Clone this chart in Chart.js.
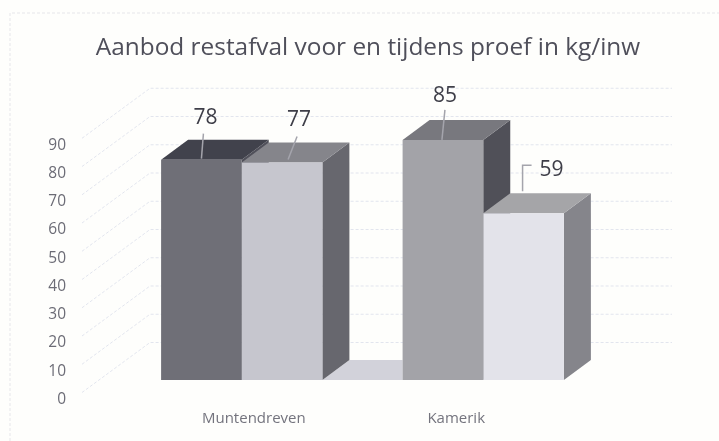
<!DOCTYPE html>
<html><head><meta charset="utf-8">
<style>html,body{margin:0;padding:0;background:#fefefc}canvas{display:block}</style>
<script src="https://cdn.jsdelivr.net/npm/chart.js@4"></script></head>
<body><canvas id="c" width="719" height="441"></canvas>
<script>
const categories = ['Muntendreven', 'Kamerik'];
const seriesVoor = [78, 85];
const seriesTijdens = [77, 59];
const yTicks = [0,10,20,30,40,50,60,70,80,90];
const titleText = 'Aanbod restafval voor en tijdens proef in kg/inw';

const frontVoor = ['#6f6f77', '#a3a3a8'], frontTijdens = ['#c6c6ce', '#e3e3ea'];
const topVoor = ['#41424c', '#78787e'], topTijdens = ['#85858b', '#a5a5a8'];
const sideVoor = ['#50505a', '#505058'], sideTijdens = ['#67676e', '#85858b'];
const DX = 27, DY = 20, LIFT = 19.5;
// offsets: [text dx, text dy, leader points relative to bar top centre]
const callouts = [
  [[ 4,-42],[ 2,-26],[0,-1]],
  [[ 17,-42],[ 15,-26],[6,-3]],
  [[ 2,-44],[ 2,-30],[-1,0]],
  [[ 28,-43],[ 8,-48],[-1,-48],[-1,-22]]
];

function poly(g, pts, fill){ g.beginPath(); pts.forEach((p,i)=> i?g.lineTo(p[0],p[1]):g.moveTo(p[0],p[1])); g.closePath(); g.fillStyle=fill; g.fill(); }

const scene = {
  id:'scene',
  beforeDatasetsDraw(chart){
    const g = chart.ctx, y = chart.scales.y, x0 = 82, x1 = 150, xr = 672;
    g.save();
    g.lineWidth = 1; g.strokeStyle = '#e6e6ea'; g.setLineDash([3,2]);
    g.beginPath(); g.moveTo(10,441); g.lineTo(10,13); g.lineTo(719,13); g.stroke();
    g.strokeStyle = '#e2e5ee';
    yTicks.forEach(v=>{
      const p = y.getPixelForValue(v);
      g.beginPath(); g.moveTo(x0, p-7); g.lineTo(x1, p-57); g.lineTo(xr, p-57); g.stroke();
    });
    g.setLineDash([]);
    const m0 = chart.getDatasetMeta(0).data, m1 = chart.getDatasetMeta(1).data;
    const b = m0[0].base - LIFT;
    const left = m1[0].x + m1[0].width/2, right = m0[1].x - m0[1].width/2;
    poly(g, [[left,b],[left+DX,b-DY],[right,b-DY],[right,b]], '#d2d2da');
    g.restore();
    g.save(); g.translate(0,-LIFT);
    for (let i=0;i<categories.length;i++){
      [[m0,sideVoor,topVoor],[m1,sideTijdens,topTijdens]].forEach(([m,sd,tp])=>{
        const e = m[i], l = e.x-e.width/2, r = e.x+e.width/2;
        poly(g, [[r,e.base],[r+DX,e.base-DY],[r+DX,e.y-DY],[r,e.y]], sd[i]);
        poly(g, [[l,e.y],[l+DX,e.y-DY],[r+DX,e.y-DY],[r,e.y]], tp[i]);
      });
    }
  },
  afterDatasetsDraw(chart){
    const g = chart.ctx;
    g.restore();
    g.save();
    const els = [chart.getDatasetMeta(0).data[0], chart.getDatasetMeta(1).data[0], chart.getDatasetMeta(0).data[1], chart.getDatasetMeta(1).data[1]];
    const vals = [seriesVoor[0], seriesTijdens[0], seriesVoor[1], seriesTijdens[1]];
    els.forEach((e,i)=>{
      const c = callouts[i], ox = e.x, oy = e.y - LIFT;
      g.strokeStyle = '#a4a4ac'; g.lineWidth = 1.5;
      g.beginPath();
      c.slice(1).forEach((p,k)=> k? g.lineTo(ox+p[0],oy+p[1]) : g.moveTo(ox+p[0],oy+p[1]));
      g.stroke();
      g.fillStyle = '#3e3e48'; g.font = '21px "Open Sans"'; g.textAlign='center'; g.textBaseline='middle';
      g.fillText(String(vals[i]), ox+c[0][0], oy+c[0][1]);
    });
    g.restore();
  }
};

new Chart(document.getElementById('c'), {
  type:'bar',
  data:{ labels:categories, datasets:[
    {label:'voor', data:seriesVoor, backgroundColor:frontVoor, borderWidth:0, categoryPercentage:.797, barPercentage:1, clip:false},
    {label:'tijdens', data:seriesTijdens, backgroundColor:frontTijdens, borderWidth:0, categoryPercentage:.797, barPercentage:1, clip:false}
  ]},
  plugins:[scene],
  options:{
    responsive:false, animation:false, devicePixelRatio:1,
    layout:{padding:{left:17,right:0,top:0,bottom:0}},
    plugins:{
      legend:{display:false}, tooltip:{enabled:false},
      title:{display:true,text:titleText,color:'#4f4f5a',font:{family:'"Open Sans"',size:24.4,weight:'normal'},padding:{top:33,bottom:83}}
    },
    scales:{
      x:{ type:'category', offset:true, grid:{display:false}, border:{display:false},
          afterBuildTicks:s=>{ s.ticks=[{value:.05},{value:.888}]; },
          afterFit:s=>{ s.height=41.5; },
          ticks:{ callback:(v,i)=>categories[i], autoSkip:false, maxRotation:0, padding:2.5, color:'#74747e', font:{family:'"Open Sans"',size:15} } },
      y:{ position:'left', min:0, max:90, grid:{display:false}, border:{display:false},
          afterBuildTicks:s=>{ s.ticks=yTicks.map(v=>({value:v})); },
          afterFit:s=>{ s.width=104; s.paddingTop=0; s.paddingBottom=0; },
          ticks:{ padding:47, color:'#6c6c76', font:{family:'"Open Sans"',size:15.5} } },
      r:{ position:'right', min:0, max:90, grid:{display:false}, border:{display:false}, ticks:{display:false},
          afterFit:s=>{ s.width=115; s.paddingTop=0; s.paddingBottom=0; } }
    }
  }
});
</script></body></html>
